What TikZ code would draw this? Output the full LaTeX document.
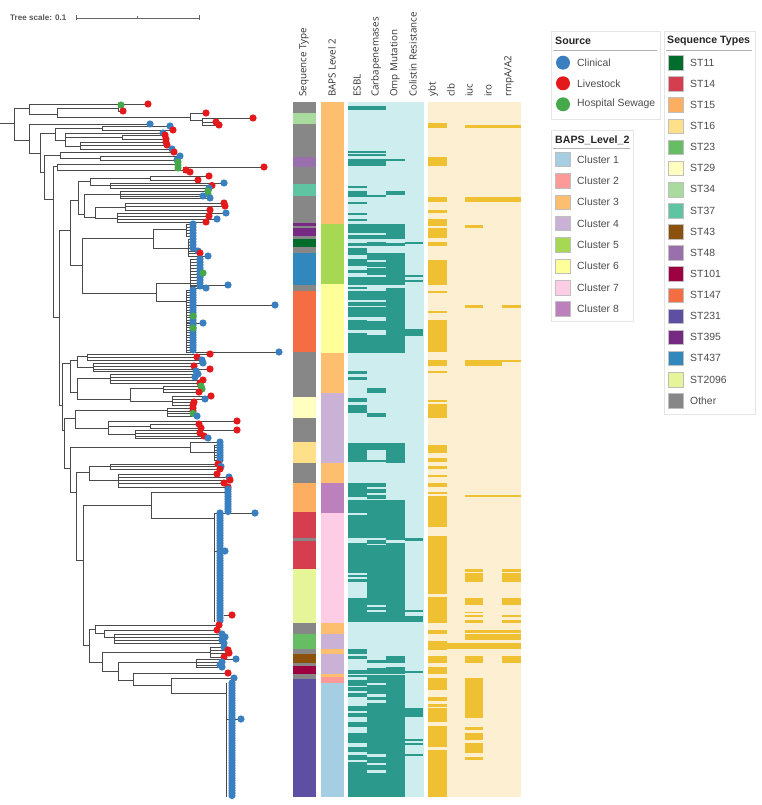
\documentclass[tikz,border=0pt]{standalone}
\usepackage{fontspec}
\setmainfont{Liberation Sans}
\newfontfamily\hdfont{Open Sans}
\definecolor{cl}{HTML}{3A7FC0}
\definecolor{lv}{HTML}{E3191C}
\definecolor{sw}{HTML}{45A84A}
\definecolor{brc}{HTML}{4A4A4A}
\definecolor{stA}{HTML}{006D2C}% ST11
\definecolor{stB}{HTML}{D53E4F}% ST14
\definecolor{stC}{HTML}{FDAE61}% ST15
\definecolor{stD}{HTML}{FEE08B}% ST16
\definecolor{stE}{HTML}{66BD63}% ST23
\definecolor{stF}{HTML}{FFFFBF}% ST29
\definecolor{stG}{HTML}{A9DB9E}% ST34
\definecolor{stH}{HTML}{5FC4A1}% ST37
\definecolor{stI}{HTML}{8C510A}% ST43
\definecolor{stJ}{HTML}{9970AB}% ST48
\definecolor{stK}{HTML}{9E0142}% ST101
\definecolor{stL}{HTML}{F46D43}% ST147
\definecolor{stM}{HTML}{5E4FA2}% ST231
\definecolor{stN}{HTML}{762A83}% ST395
\definecolor{stO}{HTML}{3288BD}% ST437
\definecolor{stP}{HTML}{E6F598}% ST2096
\definecolor{stQ}{HTML}{878787}% Other
\definecolor{bA}{HTML}{A6CEE3}
\definecolor{bB}{HTML}{FB9A99}
\definecolor{bC}{HTML}{FDBF6F}
\definecolor{bD}{HTML}{CAB2D6}
\definecolor{bE}{HTML}{A6D854}
\definecolor{bF}{HTML}{FFFF99}
\definecolor{bG}{HTML}{FCCDE5}
\definecolor{bH}{HTML}{BC80BD}
\definecolor{resbg}{HTML}{CDEDEE}
\definecolor{resbar}{HTML}{2B9A8C}
\definecolor{virbg}{HTML}{FDF0D2}
\definecolor{virbar}{HTML}{EFC031}
\def\dotlist{}
\newcommand\trH[3]{\draw[br] (#2,#1) -- (#3,#1);}
\newcommand\trV[3]{\draw[br] (#1,#2) -- (#1,#3);}
\newcommand\trD[3]{\xdef\dotlist{\unexpanded\expandafter{\dotlist}\noexpand\fill[#3] (#1,#2) circle[radius=3.6pt];}}
\newcommand\trL[4]{\draw[br] (#2,#1) -- (#3,#1); \trD{#3}{#1}{#4}}
\newcommand\stS[3]{\fill[#1] (293,#2) rectangle (316,#3);}
\newcommand\bpS[3]{\fill[#1] (321,#2) rectangle (344,#3);}
\begin{document}
\begin{tikzpicture}[x=1pt,y=-1pt,
  br/.style={draw=brc,line width=0.75pt},
  hd/.style={rotate=90,anchor=west,inner sep=0pt,font=\hdfont\fontsize{9.8}{11}\selectfont,text=black!80},
  lgt/.style={anchor=west,inner sep=0pt,font=\fontsize{10.4}{12}\selectfont,text=black!70},
  lgh/.style={anchor=west,inner sep=0pt,font=\bfseries\fontsize{10.6}{12}\selectfont,text=black!85},
  lbox/.style={draw=black!10,fill=white,line width=0.6pt},
  sq/.style={draw=black!25,line width=0.4pt}]
\useasboundingbox (0,0) rectangle (762,805);
\fill[white] (0,0) rectangle (762,805);
% ---------------- tree scale
\node[anchor=west,inner sep=0pt,font=\bfseries\fontsize{8.1}{9}\selectfont,text=black!65] (ts) at (10,18) {Tree scale: 0.1};
\draw[black!60,line width=0.6pt] (76,18) -- (199,18) (76,15.5) -- (76,20.5) (199,15.5) -- (199,20.5) (137,16.5) -- (137,19.5);
% ---------------- tree
\trH{123}{0}{14} \trV{14}{108}{140}
% A
\trH{108}{14}{29} \trV{29}{104}{114}
\trL{104}{29}{148}{lv}
\trH{114}{29}{57} \trV{57}{108}{117}
\trH{108}{57}{118} \trV{118}{105}{111}
\trL{105}{118}{121}{sw} \trL{111}{118}{123}{lv}
\trH{117}{57}{190} \trV{190}{113}{120}
\trL{113}{190}{206}{lv}
\trH{120}{190}{202} \trV{202}{118}{125}
\trL{118}{202}{253}{lv} \trL{122}{202}{216}{lv} \trL{125}{202}{219}{lv}
% B
\trH{140}{14}{29} \trV{29}{124}{153}
\trL{124}{29}{150}{cl}
% C
\trH{153}{29}{40} \trV{40}{133}{172}
\trH{133}{40}{55} \trV{55}{128}{140}
\trH{128}{55}{102} \trV{102}{126}{130}
\trL{126}{102}{170}{cl} \trL{130}{102}{173}{lv}
\trH{140}{55}{65} \trV{65}{133}{146}
\trL{133}{65}{163}{cl}
\trH{137}{65}{122} \trV{122}{135}{139} \trL{135}{122}{165}{lv} \trL{139}{122}{166}{lv}
\trH{146}{65}{80} \trV{80}{142}{149} \trL{142}{80}{166}{lv} \trL{145}{80}{167}{lv} \trL{149}{80}{172}{cl}
% D
\trH{172}{40}{44} \trV{44}{155}{199}
\trH{155}{44}{60} \trV{60}{152}{158} \trL{152}{60}{174}{lv}
\trH{158}{60}{100} \trV{100}{156}{160} \trL{156}{100}{180}{cl} \trL{160}{100}{177}{cl}
% E
\trH{199}{44}{53} \trV{53}{166}{317}
\trH{166}{53}{57} \trV{57}{164}{170}
\trH{164}{57}{175} \trV{175}{162}{168} \trL{162}{175}{178}{sw} \trL{165}{175}{178}{sw} \trL{168}{175}{178}{sw}
\trH{170}{57}{183} \trV{183}{167}{172} \trL{167}{183}{264}{lv} \trL{170}{183}{186}{lv} \trL{172}{183}{190}{lv}
% F
\trH{317}{53}{59} \trV{59}{230}{405}
\trH{230}{59}{70} \trV{70}{200}{265}
\trH{200}{70}{78} \trV{78}{181}{214}
\trH{181}{78}{90} \trV{90}{178}{185}
\trH{178}{90}{150} \trV{150}{176}{180} \trL{176}{150}{209}{lv} \trL{180}{150}{198}{lv}
\trH{185}{90}{110} \trV{110}{183}{188} \trL{183}{110}{224}{cl} \trL{185.5}{110}{212}{lv} \trL{188}{110}{209}{cl}
\trH{214}{78}{84} \trV{84}{194}{217}
\trH{194}{84}{120} \trV{120}{191}{198} \trL{191}{120}{208}{sw} \trL{194}{120}{208}{sw} \trL{196}{120}{203}{cl} \trL{198}{120}{210}{cl}
\trH{217}{84}{95} \trV{95}{207}{218}
\trH{207}{95}{125} \trV{125}{203}{210} \trL{203}{125}{224}{lv} \trL{206}{125}{225}{lv} \trL{210}{125}{210}{lv}
\trH{218}{95}{117} \trV{117}{213}{222} \trL{213}{117}{226}{cl} \trL{216}{117}{209}{lv} \trL{219}{117}{217}{cl} \trL{222}{117}{206}{lv}
\trH{265}{70}{82} \trV{82}{238}{293}
\trH{238}{82}{153} \trV{153}{229}{248}
\trH{229}{153}{186} \trV{186}{224}{236}
\foreach \yy in {224,227,...,236} {\trL{\yy}{186}{193}{cl}}
\trH{248}{153}{188} \trV{188}{239}{256}
\foreach \yy in {239,242,...,248} {\trL{\yy}{188}{193}{cl}}
\trL{251}{188}{198}{cl} \trL{253}{188}{200}{lv} \trL{256}{188}{208}{cl}
\trH{293}{82}{156} \trV{156}{283}{301}
\trH{283}{156}{190} \trV{190}{259}{289}
\foreach \yy in {259,262,...,287} {\trL{\yy}{190}{200}{cl}}
\trD{203}{273}{sw} \trL{285}{190}{228}{cl} \trL{288}{190}{206}{cl}
\trH{301}{156}{186} \trV{186}{290}{352}
\trL{305}{186}{275}{cl} \trL{352}{186}{279}{cl} \trL{323}{186}{203}{cl}
\foreach \yy in {290,292.5,...,350} {\trL{\yy}{186}{193}{cl}}
\trD{193}{316}{sw} \trD{193}{328}{sw}
% G
\trH{405}{59}{62} \trV{62}{363}{430}
\trH{363}{62}{70} \trV{70}{360}{392}
\trH{360}{70}{77} \trV{77}{356}{367}
\trH{356}{77}{87} \trV{87}{354}{360} \trL{354}{87}{210}{lv} \trL{357}{87}{197}{lv} \trL{360}{87}{202}{cl}
\trH{367}{77}{93} \trV{93}{363}{371} \trL{363}{93}{203}{cl} \trL{366}{93}{194}{lv} \trL{369}{93}{210}{lv} \trL{371}{93}{196}{cl}
\trH{392}{70}{77} \trV{77}{378}{399}
\trH{378}{77}{110} \trV{110}{374}{383} \trL{374}{110}{198}{cl} \trL{377}{110}{195}{cl} \trL{380}{110}{203}{lv} \trL{383}{110}{200}{lv}
\trH{399}{77}{130} \trV{130}{388}{401}
\trH{388}{130}{163} \trV{163}{386}{392} \trL{386}{163}{201}{sw} \trL{389}{163}{202}{sw} \trL{392}{163}{199}{lv}
\trH{401}{130}{172} \trV{172}{396}{405} \trL{396}{172}{211}{lv} \trL{399}{172}{205}{cl} \trL{402}{172}{194}{lv} \trL{405}{172}{193}{lv}
% H
\trH{430}{62}{64} \trV{64}{418}{468}
\trH{418}{64}{75} \trV{75}{410}{428}
\trH{410}{75}{167} \trV{167}{408}{416} \trL{408}{167}{193}{lv} \trL{411}{167}{193}{lv} \trL{413.5}{167}{193}{sw} \trL{416}{167}{197}{cl}
\trH{428}{75}{108} \trV{108}{421}{434}
\trL{421}{108}{237}{lv}
\trH{426}{108}{150} \trV{150}{424}{428} \trL{424}{150}{199}{lv} \trL{428}{150}{201}{lv}
\trH{434}{108}{135} \trV{135}{430}{438} \trL{430}{135}{237}{lv} \trL{433}{135}{200}{lv} \trL{436}{135}{204}{lv} \trL{438}{135}{208}{cl}
% I
\trH{468}{64}{70} \trV{70}{447}{492}
\trH{447}{70}{190} \trV{190}{442}{452}
\trL{442}{190}{220}{cl}
\trH{452}{190}{214} \trV{214}{445}{461}
\foreach \yy in {445,447.5,...,460} {\trL{\yy}{214}{220}{cl}}
% J
\trH{492}{70}{76} \trV{76}{472}{560}
\trH{472}{76}{89} \trV{89}{466}{480}
\trH{466}{89}{110} \trV{110}{464}{469} \trL{464}{110}{218}{lv} \trL{466.5}{110}{221}{cl} \trL{469}{110}{220}{lv}
\trH{480}{89}{118} \trV{118}{474}{487} \trL{474}{118}{217}{lv} \trL{477}{118}{229}{cl} \trL{480}{118}{230}{lv} \trL{483}{118}{224}{lv} \trL{487}{118}{228}{lv}
% K
\trH{560}{76}{83} \trV{83}{505}{645}
\trH{505}{83}{151} \trV{151}{492}{518}
\trH{492}{151}{225} \trV{225}{489}{512}
\foreach \yy in {489,491.5,...,512} {\trD{228}{\yy}{cl}}
\trH{518}{151}{214} \trV{214}{513}{622}
\trL{513}{214}{255}{cl} \trL{551}{214}{225}{cl} \trL{615}{224}{232}{lv}
\foreach \yy in {513,515.5,...,622} {\trD{220}{\yy}{cl}}
% L
\trH{645}{83}{89} \trV{89}{629}{662}
\trH{629}{89}{95} \trV{95}{625}{633}
\trL{625}{95}{219}{lv}
\trH{633}{95}{104} \trV{104}{630}{637} \trL{630}{104}{217}{lv}
\trH{637}{104}{114} \trV{114}{634}{643} \trL{634}{114}{222}{cl} \trL{637}{114}{225}{cl} \trL{640}{114}{222}{cl} \trL{643}{114}{224}{cl}
% M
\trH{662}{89}{102} \trV{102}{652}{671}
\trH{652}{102}{210} \trV{210}{647}{657} \trL{647}{210}{224}{cl} \trL{650}{210}{228}{lv} \trL{653}{210}{229}{lv} \trL{657}{210}{224}{lv}
% N
\trH{671}{102}{118} \trV{118}{662}{680}
\trH{662}{118}{196} \trV{196}{659}{667} \trL{659}{196}{236}{cl} \trL{662}{196}{222}{cl} \trL{665}{196}{220}{cl} \trL{667}{196}{222}{cl}
% O
\trH{680}{118}{133} \trV{133}{673}{685}
\trL{673}{133}{228}{lv}
% P, Q
\trH{685}{133}{171} \trV{171}{678}{693}
\trL{678}{171}{234}{cl}
\trH{693}{171}{226} \trV{226}{683}{797}
\trL{719}{226}{241}{cl}
\foreach \yy in {683,685.5,...,797} {\trD{232}{\yy}{cl}}
% dots on top of the branches
\dotlist
% ---------------- Sequence type strip
\stS{stQ}{102}{113} \stS{stG}{113}{124} \stS{stQ}{124}{157} \stS{stJ}{157}{167}
\stS{stQ}{167}{184} \stS{stH}{184}{196} \stS{stQ}{196}{223} \stS{stN}{223}{226}
\stS{stQ}{226}{228} \stS{stN}{228}{236} \stS{stQ}{236}{239} \stS{stA}{239}{247}
\stS{stQ}{247}{253} \stS{stO}{253}{285} \stS{stQ}{285}{291} \stS{stL}{291}{352}
\stS{stQ}{352}{397} \stS{stF}{397}{418} \stS{stQ}{418}{442} \stS{stD}{442}{463}
\stS{stQ}{463}{483} \stS{stC}{483}{512} \stS{stB}{512}{538} \stS{stQ}{538}{541}
\stS{stB}{541}{569} \stS{stP}{569}{623} \stS{stQ}{623}{634} \stS{stE}{634}{649}
\stS{stQ}{649}{654} \stS{stI}{654}{663} \stS{stQ}{663}{666} \stS{stK}{666}{674}
\stS{stQ}{674}{679} \stS{stM}{679}{797}
% ---------------- BAPS strip
\bpS{bC}{102}{224} \bpS{bE}{224}{284} \bpS{bF}{284}{353} \bpS{bC}{353}{393}
\bpS{bD}{393}{463} \bpS{bC}{463}{483} \bpS{bH}{483}{513} \bpS{bG}{513}{623}
\bpS{bC}{623}{634} \bpS{bD}{634}{649} \bpS{bC}{649}{654} \bpS{bD}{654}{674}
\bpS{bC}{674}{677} \bpS{bB}{677}{683} \bpS{bA}{683}{797}
% ---------------- resistance
\fill[resbg] (347.5,102) rectangle (423.5,797);
\foreach \a/\b in {106/110,151/153,154/156,159/166,186/188,191/197,202/204,213/215,219/221,224/233,235/239,243/246,248/255,259/266,270/273,277/285,287/289,291/300,302/306,307/317,320/330,333/334.5,335/353,371/374,377/380,398/402,405/413,443/462,483/497,500/513,515/538,543/573,575/577,579/582,598/622,649/654,656/659,670/674,675/677,680/686,687/691,693/697,706/711,713/717,722/727,733/743,747/752,755/760,762/797}
  {\fill[resbar] (348,\a) rectangle (367,\b);}
\foreach \a/\b in {106/110,151/153,154/156,159/166,195/197,224/233,235/239,242/246,253/260,262/267,268/275,277/285,291/300,302/306,307/317,321/330,335/353,388/393,413/417,443/450,460/462,483/487,489/493,495/499,500/538,540/544,545/597,597/605,607/610,612/622,660/663,668/674,675/683,685/694,697/700,703/754,757/763,765/770,773/797}
  {\fill[resbar] (367,\a) rectangle (386,\b);}
\foreach \a/\b in {159/161,191/195,224/239,243/246,253/285,288/353,443/463,500/540,543/622,656/663,667/674,675/797}
  {\fill[resbar] (386,\a) rectangle (404.7,\b);}
\foreach \a/\b in {242/244,275/277,280/282,329/336,538/541,610/612,616/622,671/673,708/717,739/741,743/745,754/756}
  {\fill[resbar] (404.7,\a) rectangle (423.3,\b);}
% ---------------- virulence
\fill[virbg] (427.5,102) rectangle (521,797);
\foreach \a/\b in {123/128,157/166,197/202,210/213,219/226,228/238,242/246,260/285,291/293,311/313,320/352,360/366,371/373,400/402,404/418,445/453,458/462,466/469,475/477,483/487,492/493.5,496/527,536/594,597/623,630/634,641/650,656/663,667/674,678/690,697/701,704/707,708/722,726/747,750/797}
  {\fill[virbar] (427.7,\a) rectangle (446.7,\b);}
\fill[virbar] (446.7,643) rectangle (465,649);
\foreach \a/\b in {125/128,197/202,225/228,305/308,360/366,495/497,569/572,573/582,598/605,612/613,615/617,620/623,630/633,634/640,643/649,656/663,678/718,727/730,733/740,743/753,757/760}
  {\fill[virbar] (465,\a) rectangle (483.3,\b);}
\foreach \a/\b in {125/128,197/202,360/366,495/497,630/633,634/640,643/649}
  {\fill[virbar] (483.3,\a) rectangle (501.7,\b);}
\foreach \a/\b in {125/128,197/202,305/308,360/362,495/497,569/572,573/582,598/605,615/617,620/623,630/633,634/640,643/649,656/663}
  {\fill[virbar] (501.7,\a) rectangle (520.7,\b);}
% ---------------- column headers
\node[hd] (hST) at (304,97) {Sequence Type};
\node[hd] (hBP) at (332,97) {BAPS Level 2};
\node[hd] (hES) at (357,97) {ESBL};
\node[hd] (hCA) at (376,97) {Carbapenemases};
\node[hd] (hOM) at (395,97) {Omp Mutation};
\node[hd] (hCO) at (413,97) {Colistin Resistance};
\node[hd] (hYB) at (433,97) {ybt};
\node[hd] (hCL) at (451,97) {clb};
\node[hd] (hIU) at (469,97) {iuc};
\node[hd] (hIR) at (488,97) {iro};
\node[hd] (hRM) at (509,97) {rmpA/A2};
% ---------------- legend: Source
\draw[lbox] (551,31) rectangle (660,119);
\node[lgh] (lsT) at (555,41) {Source};
\draw[black!30,line width=0.8pt] (553,50) -- (657,50);
\fill[cl] (563,62.7) circle[radius=7pt]; \node[lgt] (ls1) at (577,62.7) {Clinical};
\fill[lv] (563,83.3) circle[radius=7pt]; \node[lgt] (ls2) at (577,83.3) {Livestock};
\fill[sw] (563,104.3) circle[radius=7pt]; \node[lgt] (ls3) at (577,104.3) {Hospital Sewage};
% ---------------- legend: BAPS
\draw[lbox] (551,130) rectangle (633,321);
\node[lgh] (lbT) at (555,140) {BAPS\_Level\_2};
\draw[black!30,line width=0.8pt] (553,148) -- (630,148);
\foreach \c/\t [count=\i from 0] in {bA/Cluster 1,bB/Cluster 2,bC/Cluster 3,bD/Cluster 4,bE/Cluster 5,bF/Cluster 6,bG/Cluster 7,bH/Cluster 8}
  {\filldraw[sq,fill=\c] (555,159.3+21.35*\i-7.3) rectangle (570,159.3+21.35*\i+7.3);
   \node[lgt] (lb\i) at (577,159.3+21.35*\i) {\t};}
% ---------------- legend: Sequence Types
\draw[lbox] (664,31) rectangle (755,414);
\node[lgh] (lqT) at (667,41) {Sequence Types};
\draw[black!30,line width=0.8pt] (666,50) -- (752,50);
\foreach \c/\t [count=\i from 0] in {stA/ST11,stB/ST14,stC/ST15,stD/ST16,stE/ST23,stF/ST29,stG/ST34,stH/ST37,stI/ST43,stJ/ST48,stK/ST101,stL/ST147,stM/ST231,stN/ST395,stO/ST437,stP/ST2096,stQ/Other}
  {\filldraw[sq,fill=\c] (668,62.7+21.12*\i-7.3) rectangle (683,62.7+21.12*\i+7.3);
   \node[lgt] (lq\i) at (690,62.7+21.12*\i) {\t};}
\end{tikzpicture}
\end{document}
